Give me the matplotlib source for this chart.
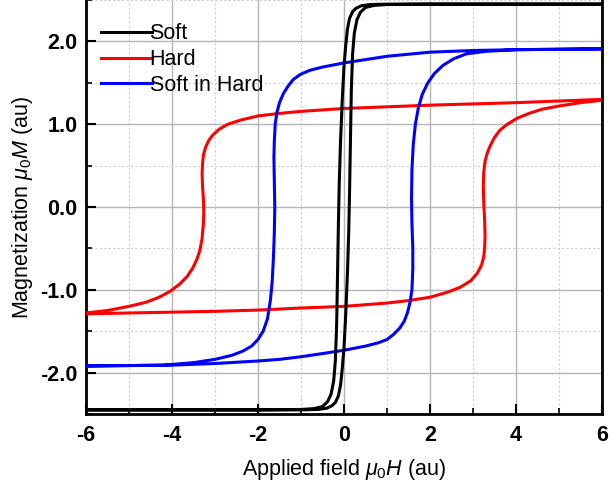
import numpy as np
import matplotlib
matplotlib.use("Agg")
import matplotlib.pyplot as plt
from matplotlib.ticker import MultipleLocator, FormatStrFormatter

plt.rcParams['font.family'] = ['Liberation Sans', 'DejaVu Sans']
plt.rcParams['mathtext.fontset'] = 'custom'
plt.rcParams['mathtext.rm'] = 'Liberation Sans'
plt.rcParams['mathtext.it'] = 'Liberation Sans:italic'
plt.rcParams['axes.unicode_minus'] = False

# soft loop: field sweeping down (6 -> -6) then back up (-6 -> 6)
soft_down_h = [6, 2, 1, 0.6, 0.4, 0.28, 0.2, 0.13, 0.08, 0.04, 0.0, -0.04, -0.08, -0.11, -0.13,
               -0.15, -0.17, -0.2, -0.24, -0.3, -0.38, -0.5, -0.7, -1.0, -2, -6]
soft_down_m = [2.45, 2.45, 2.45, 2.445, 2.43, 2.40, 2.36, 2.28, 2.15, 1.95, 1.7, 1.3, 0.8, 0.3, -0.2,
               -0.8, -1.4, -1.85, -2.1, -2.26, -2.35, -2.41, -2.435, -2.445, -2.45, -2.45]
soft_up_h = [-6, -2, -1, -0.6, -0.4, -0.28, -0.2, -0.13, -0.08, -0.04, 0.0, 0.04, 0.08, 0.11, 0.13,
             0.15, 0.17, 0.2, 0.24, 0.3, 0.38, 0.5, 0.7, 1.0, 2, 6]
soft_up_m = [-2.45, -2.45, -2.45, -2.445, -2.43, -2.40, -2.36, -2.28, -2.15, -1.95, -1.7, -1.3, -0.8, -0.3, 0.2,
             0.8, 1.4, 1.85, 2.1, 2.26, 2.35, 2.41, 2.435, 2.445, 2.45, 2.45]

# hard loop
hard_down_h = [6, 5, 4, 3, 2, 1, 0, -1, -1.5, -2.0, -2.4, -2.7, -2.9, -3.05, -3.15, -3.22, -3.27, -3.29,
               -3.30, -3.29, -3.27, -3.26, -3.27, -3.30, -3.35, -3.42, -3.52, -3.65, -3.82, -4.05, -4.3,
               -4.6, -5.0, -5.5, -6]
hard_down_m = [1.30, 1.28, 1.26, 1.245, 1.23, 1.21, 1.19, 1.155, 1.13, 1.10, 1.05, 1.0, 0.94, 0.87, 0.80,
               0.72, 0.63, 0.52, 0.40, 0.25, 0.1, -0.05, -0.2, -0.38, -0.52, -0.63, -0.74, -0.84, -0.93,
               -1.02, -1.09, -1.15, -1.2, -1.25, -1.28]
hard_up_h = [-6, -5, -4, -3, -2, -1, 0, 1, 1.5, 2.0, 2.4, 2.7, 2.95, 3.1, 3.2, 3.25, 3.27, 3.28, 3.27,
             3.25, 3.24, 3.25, 3.28, 3.33, 3.40, 3.5, 3.63, 3.8, 4.02, 4.3, 4.6, 5.0, 5.5, 6]
hard_up_m = [-1.29, -1.28, -1.27, -1.26, -1.245, -1.22, -1.2, -1.16, -1.13, -1.09, -1.03, -0.97, -0.89,
             -0.80, -0.70, -0.60, -0.50, -0.35, -0.15, 0.05, 0.25, 0.42, 0.55, 0.65, 0.74, 0.84, 0.93,
             1.0, 1.07, 1.13, 1.18, 1.22, 1.26, 1.29]

# soft phase embedded in hard phase
sih_down_h = [6, 5, 4, 3, 2, 1, 0.5, 0, -0.5, -0.8, -1.02, -1.18, -1.3, -1.41, -1.5, -1.56, -1.6, -1.62,
              -1.63, -1.62, -1.61, -1.62, -1.64, -1.67, -1.71, -1.78, -1.88, -2.0, -2.15, -2.35, -2.6,
              -3.0, -3.5, -4.2, -5, -6]
sih_down_m = [1.91, 1.905, 1.90, 1.89, 1.87, 1.82, 1.78, 1.74, 1.69, 1.65, 1.60, 1.54, 1.46, 1.37, 1.26,
              1.14, 1.0, 0.8, 0.6, 0.3, 0.0, -0.3, -0.6, -0.9, -1.12, -1.35, -1.50, -1.60, -1.68, -1.74,
              -1.79, -1.84, -1.88, -1.91, -1.915, -1.92]
sih_up_h = [-6, -5, -4, -3, -2, -1.5, -1.02, -0.5, 0, 0.5, 0.8, 1.0, 1.15, 1.3, 1.4, 1.48, 1.54, 1.58,
            1.6, 1.6, 1.58, 1.57, 1.58, 1.61, 1.66, 1.73, 1.82, 1.95, 2.1, 2.3, 2.55, 2.85, 3.3, 4.0, 5, 6]
sih_up_m = [-1.92, -1.915, -1.91, -1.89, -1.86, -1.84, -1.81, -1.77, -1.73, -1.68, -1.64, -1.60, -1.54,
            -1.46, -1.38, -1.27, -1.14, -1.0, -0.75, -0.5, -0.2, 0.1, 0.45, 0.75, 1.0, 1.2, 1.36, 1.5,
            1.61, 1.71, 1.79, 1.85, 1.88, 1.90, 1.905, 1.91]

fig = plt.figure(figsize=(6.09, 4.91), dpi=100)
ax = fig.add_axes([86 / 609, 1 - 414 / 491, 516 / 609, 414 / 491])

lw = 2.2
ax.plot(soft_down_h + soft_up_h, soft_down_m + soft_up_m, color="black", lw=lw, label="Soft", zorder=5)
ax.plot(hard_down_h + hard_up_h, hard_down_m + hard_up_m, color="red", lw=lw, label="Hard", zorder=3)
ax.plot(sih_down_h + sih_up_h, sih_down_m + sih_up_m, color="blue", lw=lw, label="Soft in Hard", zorder=4)

ax.set_xlim(-6, 6)
ax.set_ylim(-2.5, 2.5)
ax.xaxis.set_major_locator(MultipleLocator(2))
ax.xaxis.set_minor_locator(MultipleLocator(1))
ax.yaxis.set_major_locator(MultipleLocator(1))
ax.yaxis.set_minor_locator(MultipleLocator(0.5))
ax.yaxis.set_major_formatter(FormatStrFormatter("%.1f"))

ax.grid(which="major", color="#b4b4b4", lw=1, ls="-", zorder=0)
ax.grid(which="minor", color="#cfcfcf", lw=0.8, ls=(0, (2, 2)), zorder=0)
ax.set_axisbelow(True)

fs = 15.5
ax.tick_params(which="major", direction="in", length=7, width=1.5, labelsize=fs)
ax.tick_params(which="minor", direction="in", length=4, width=1.2)
ax.tick_params(axis="x", which="major", pad=8)
ax.tick_params(axis="y", which="major", pad=6)
for lab in ax.get_xticklabels() + ax.get_yticklabels():
    lab.set_fontweight("bold")

for side in ["left", "bottom", "right"]:
    ax.spines[side].set_linewidth(2)
ax.spines["top"].set_visible(False)

ax.set_xlabel(r"Applied field $\mu_\mathrm{0}H$ (au)", fontsize=fs, labelpad=8)
ax.set_ylabel(r"Magnetization $\mu_\mathrm{0}M$ (au)", fontsize=fs, labelpad=4)

ax.legend(loc="upper left", frameon=False, fontsize=fs, handlelength=2.35, handletextpad=-0.1,
          labelspacing=0.22, borderaxespad=0.3, bbox_to_anchor=(0.0, 0.98))

fig.savefig("out.png", dpi=100)
